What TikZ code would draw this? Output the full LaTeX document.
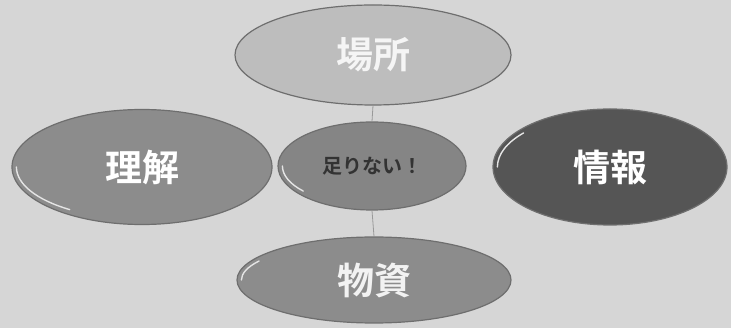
\documentclass[tikz,border=0pt]{standalone}
\usepackage{fontspec}
\newfontfamily\cjkb{Noto Sans CJK JP Bold}
\usetikzlibrary{shapes.geometric}
\definecolor{bg}{HTML}{D6D6D6}
\definecolor{ftop}{HTML}{BDBDBD}
\definecolor{fmid}{HTML}{8C8C8C}
\definecolor{fdark}{HTML}{555555}
\definecolor{rim}{HTML}{6E6E6E}
\tikzset{
  oval/.style={ellipse, draw=rim, line width=1.2pt, inner sep=0pt},
  link/.style={draw=gray!80, line width=0.8pt},
  bigtxt/.style={font=\cjkb\fontsize{37}{40}\selectfont, text=white},
  glint/.style={white!80!gray, line width=1.4pt, line cap=round},
}
\begin{document}
\begin{tikzpicture}[x=1pt,y=-1pt]
\useasboundingbox (0,0) rectangle (731,328);
\fill[bg] (0,0) rectangle (731,328);
\node[oval, fill=ftop, minimum width=276pt, minimum height=100pt, bigtxt, text=white!92!gray] (top) at (373,55) {場所};
\node[oval, fill=fmid, minimum width=260pt, minimum height=115pt, bigtxt] (left) at (142,167) {理解};
\node[oval, fill=fdark, minimum width=234pt, minimum height=116pt, bigtxt] (right) at (610,167) {情報};
\node[oval, fill=fmid, minimum width=274pt, minimum height=86pt, bigtxt, text=white!90!gray] (bot) at (374,280) {物資};
\node[oval, fill=fmid!95!black, minimum width=188pt, minimum height=88pt, font=\cjkb\fontsize{20}{24}\selectfont, text=black!80] (mid) at (372,166) {足りない！};
\draw[link] (top.south) -- (mid.north);
\draw[link] (mid.south) -- (bot.north);
\draw[glint] ([xshift=5pt]left.west) arc[start angle=180, end angle=125, x radius=125, y radius=52];
\draw[glint] ([xshift=5pt]right.west) arc[start angle=180, end angle=220, x radius=112, y radius=53];
\draw[glint] ([xshift=5pt]bot.west) arc[start angle=180, end angle=210, x radius=132, y radius=38];
\draw[glint] ([xshift=5pt]mid.west) arc[start angle=180, end angle=140, x radius=89, y radius=39];
\end{tikzpicture}
\end{document}
